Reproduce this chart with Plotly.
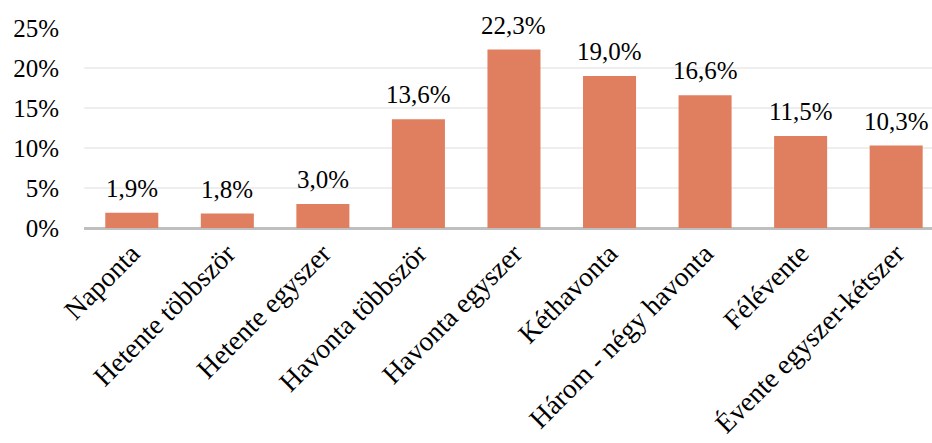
import plotly.graph_objects as go

categories = [
    "Naponta",
    "Hetente többször",
    "Hetente egyszer",
    "Havonta többször",
    "Havonta egyszer",
    "Kéthavonta",
    "Három - négy havonta",
    "Félévente",
    "Évente egyszer-kétszer",
]
shares = [1.9, 1.8, 3.0, 13.6, 22.3, 19.0, 16.6, 11.5, 10.3]
y_ticks = [0, 5, 10, 15, 20, 25]
y_tick_labels = ["0%", "5%", "10%", "15%", "20%", "25%"]

FONT = "Liberation Serif, Times New Roman, serif"
BAR_COLOR = "#E07F5F"

fig = go.Figure(
    go.Bar(
        x=categories,
        y=shares,
        marker=dict(color=BAR_COLOR, line=dict(width=0)),
        width=0.555,
        hoverinfo="x+y",
    )
)

# value labels above each bar, Hungarian decimal comma
for cat, val in zip(categories, shares):
    fig.add_annotation(
        x=cat,
        y=val,
        text=f"{val:.1f}%".replace(".", ","),
        showarrow=False,
        xanchor="center",
        yanchor="bottom",
        yshift=9,
        font=dict(family=FONT, size=25, color="#000000"),
    )

fig.update_layout(
    width=932,
    height=443,
    margin=dict(l=84, r=0, t=28, b=215),
    paper_bgcolor="white",
    plot_bgcolor="white",
    showlegend=False,
    font=dict(family=FONT, size=25, color="#000000"),
)

fig.update_xaxes(
    range=[-0.5, 8.375],
    tickangle=-45,
    tickfont=dict(family=FONT, size=27.5, color="#000000"),
    showgrid=False,
    showline=False,
    ticks="",
    ticklabelstandoff=3,
    automargin=False,
)

fig.update_yaxes(
    range=[0, 25],
    tickmode="array",
    tickvals=y_ticks,
    ticktext=y_tick_labels,
    tickfont=dict(family=FONT, size=25, color="#000000"),
    showgrid=True,
    gridcolor="#EEEEEE",
    gridwidth=1.5,
    zeroline=True,
    zerolinecolor="#BFBFBF",
    zerolinewidth=3,
    showline=False,
    ticks="",
    ticklabelstandoff=24,
    automargin=False,
)

fig.write_html("out.html")
